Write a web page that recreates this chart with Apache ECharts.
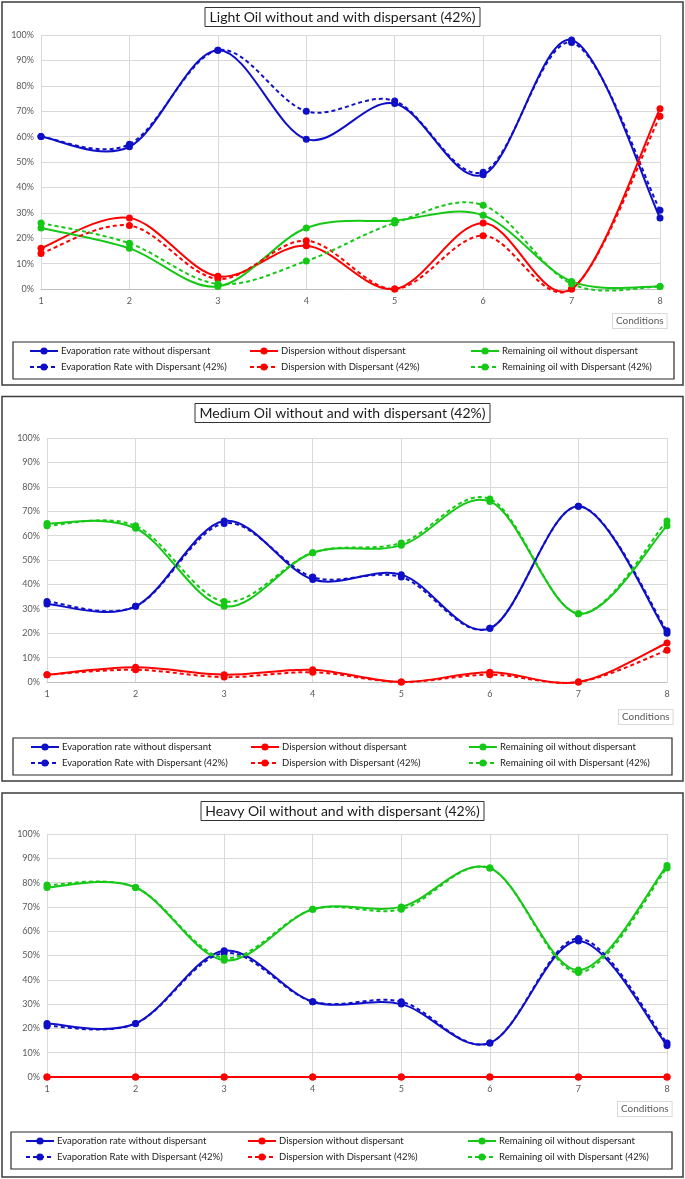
<!DOCTYPE html>
<html><head><meta charset="utf-8">
<script src="https://cdn.jsdelivr.net/npm/echarts@6/dist/echarts.min.js"></script>
<style>html,body{margin:0;padding:0;background:#fff}#c{width:685px;height:1179px}</style>
</head><body><div id="c"></div>
<script>
// ---------- data ----------
const categories = ['1', '2', '3', '4', '5', '6', '7', '8'];
const yTickValues = [0, 10, 20, 30, 40, 50, 60, 70, 80, 90, 100];
const titles = [
  'Light Oil without and with dispersant (42%)',
  'Medium Oil without and with dispersant (42%)',
  'Heavy Oil without and with dispersant (42%)'
];
const seriesNames = [
  'Evaporation rate without dispersant',
  'Dispersion without dispersant',
  'Remaining oil without dispersant',
  'Evaporation Rate with Dispersant (42%)',
  'Dispersion with Dispersant (42%)',
  'Remaining oil with Dispersant (42%)'
];
const xAxisName = 'Conditions';

// Light oil (%)
const lightEvapWithout = [60, 56, 94, 59, 73, 45, 98, 28];
const lightDispWithout = [16, 28, 5, 17, 0, 26, 0, 71];
const lightRemWithout  = [24, 16, 1, 24, 27, 29, 3, 1];
const lightEvapWith    = [60, 57, 94, 70, 74, 46, 97, 31];
const lightDispWith    = [14, 25, 4, 19, 0, 21, 0, 68];
const lightRemWith     = [26, 18, 2, 11, 26, 33, 2, 1];
// Medium oil (%)
const medEvapWithout = [32, 31, 66, 42, 44, 22, 72, 20];
const medDispWithout = [3, 6, 3, 5, 0, 4, 0, 16];
const medRemWithout  = [65, 63, 31, 53, 56, 74, 28, 64];
const medEvapWith    = [33, 31, 65, 43, 43, 22, 72, 21];
const medDispWith    = [3, 5, 2, 4, 0, 3, 0, 13];
const medRemWith     = [64, 64, 33, 53, 57, 75, 28, 66];
// Heavy oil (%)
const heavyEvapWithout = [22, 22, 52, 31, 30, 14, 56, 13];
const heavyDispWithout = [0, 0, 0, 0, 0, 0, 0, 0];
const heavyRemWithout  = [78, 78, 48, 69, 70, 86, 44, 87];
const heavyEvapWith    = [21, 22, 51, 31, 31, 14, 57, 14];
const heavyDispWith    = [0, 0, 0, 0, 0, 0, 0, 0];
const heavyRemWith     = [79, 78, 49, 69, 69, 86, 43, 86];

const panelData = [
  [lightEvapWithout, lightDispWithout, lightRemWithout, lightEvapWith, lightDispWith, lightRemWith],
  [medEvapWithout, medDispWithout, medRemWithout, medEvapWith, medDispWith, medRemWith],
  [heavyEvapWithout, heavyDispWithout, heavyRemWithout, heavyEvapWith, heavyDispWith, heavyRemWith]
];

// ---------- layout / style ----------
const FONT = 'Lato, "Open Sans", sans-serif';
const colors = ['#0f0fc8', '#ff0000', '#16c816'];
const DASH = [4, 3];
const layout = [
  { grid: {left: 41, top: 35, width: 619, height: 254}, titleTop: 7,
    border: [2, 2, 681, 383], legBox: [13, 342, 661, 37], legRow: 352, legCols: [29, 249, 470], cond: [612, 313] },
  { grid: {left: 47, top: 438, width: 620, height: 244}, titleTop: 403,
    border: [2, 396.5, 681, 384.5], legBox: [13, 738, 659, 37], legRow: 748, legCols: [30, 250, 468], cond: [618, 709] },
  { grid: {left: 47, top: 834, width: 620, height: 243}, titleTop: 801,
    border: [2, 793, 681, 384], legBox: [11, 1132, 661, 37], legRow: 1142, legCols: [25, 247, 467], cond: [617, 1101] }
];
const rowGap = 18;

// Excel-style smoothed curve drawn through the axis scales (api.coord)
function smoothRenderer(values, color, dashed) {
  return function (params, api) {
    if (params.dataIndex !== 0) return null;
    const pts = values.map((v, j) => api.coord([j, v]));
    const n = pts.length;
    let d = 'M' + pts[0][0] + ' ' + pts[0][1];
    for (let j = 0; j < n - 1; j++) {
      const p0 = pts[Math.max(j - 1, 0)], p1 = pts[j], p2 = pts[j + 1], p3 = pts[Math.min(j + 2, n - 1)];
      const c1x = p1[0] + (p2[0] - p0[0]) / 6, c1y = p1[1] + (p2[1] - p0[1]) / 6;
      const c2x = p2[0] - (p3[0] - p1[0]) / 6, c2y = p2[1] - (p3[1] - p1[1]) / 6;
      d += ' C' + [c1x, c1y, c2x, c2y, p2[0], p2[1]].join(' ');
    }
    return {
      type: 'path', silent: true,
      shape: {pathData: d},
      style: {fill: 'none', stroke: color, lineWidth: 2, lineDash: dashed ? DASH : null, lineCap: 'butt'}
    };
  };
}

const option = {
  animation: false,
  backgroundColor: '#ffffff',
  title: [], grid: [], xAxis: [], yAxis: [], series: [], legend: [], graphic: []
};

layout.forEach((L, i) => {
  option.title.push({
    text: titles[i], left: 'center', top: L.titleTop,
    borderColor: '#333', borderWidth: 1, padding: [3, 5],
    textStyle: {fontFamily: FONT, fontSize: 14, fontWeight: 'normal', color: '#1a1a1a'}
  });
  option.grid.push(Object.assign({containLabel: false}, L.grid));
  option.xAxis.push({
    type: 'category', gridIndex: i, data: categories, boundaryGap: false,
    axisLine: {lineStyle: {color: '#bfbfbf'}}, axisTick: {show: false},
    axisLabel: {color: '#595959', fontSize: 9, fontFamily: FONT, margin: 8},
    splitLine: {show: true, lineStyle: {color: '#d9d9d9', width: 1}}
  });
  option.yAxis.push({
    type: 'value', gridIndex: i, min: yTickValues[0], max: yTickValues[yTickValues.length - 1],
    interval: yTickValues[1] - yTickValues[0],
    axisLine: {show: false}, axisTick: {show: false},
    axisLabel: {color: '#595959', fontSize: 9, fontFamily: FONT, margin: 7, formatter: '{value}%'},
    splitLine: {lineStyle: {color: '#d9d9d9', width: 1}}
  });
  panelData[i].forEach((arr, k) => {
    const dashed = k >= 3;
    const c = colors[k % 3];
    // smoothed line
    option.series.push({
      type: 'custom', coordinateSystem: 'cartesian2d', xAxisIndex: i, yAxisIndex: i,
      data: arr.map((v, j) => [j, v]), encode: {x: 0, y: 1},
      renderItem: smoothRenderer(arr, c, dashed), z: 2 + k, silent: true
    });
    // markers (and legend entry)
    option.series.push({
      type: 'line', name: seriesNames[k], xAxisIndex: i, yAxisIndex: i, data: arr,
      symbol: 'circle', symbolSize: 7,
      lineStyle: {color: c, width: 2, type: dashed ? DASH : 'solid', opacity: 0},
      itemStyle: {color: c}, emphasis: {disabled: true}, z: 10 + k, silent: true
    });
  });
  for (let c = 0; c < 3; c++) {
    option.legend.push({
      orient: 'vertical', left: L.legCols[c], top: L.legRow - 6, padding: 0,
      itemWidth: 28, itemHeight: 9, itemGap: rowGap - 12, selectedMode: false,
      data: [seriesNames[c], seriesNames[c + 3]],
      lineStyle: {opacity: 1},
      textStyle: {fontFamily: FONT, fontSize: 9.5, color: '#1a1a1a', padding: [0, 0, 0, -2]}
    });
  }
  option.graphic.push({
    type: 'rect', silent: true, z: 0,
    shape: {x: L.border[0], y: L.border[1], width: L.border[2], height: L.border[3]},
    style: {fill: 'none', stroke: '#3c3c3c', lineWidth: 1.5}
  });
  option.graphic.push({
    type: 'rect', silent: true, z: 0,
    shape: {x: L.legBox[0], y: L.legBox[1], width: L.legBox[2], height: L.legBox[3]},
    style: {fill: 'none', stroke: '#2a2a2a', lineWidth: 1.2}
  });
  option.graphic.push({
    type: 'text', silent: true, left: L.cond[0], top: L.cond[1],
    style: {text: xAxisName, fill: '#595959', font: '10px ' + FONT,
      padding: [2, 3, 2, 3], borderColor: '#d9d9d9', borderWidth: 1, backgroundColor: '#fff'}
  });
});

const chart = echarts.init(document.getElementById('c'), null, {renderer: 'canvas'});
chart.setOption(option);
</script>
</body></html>
